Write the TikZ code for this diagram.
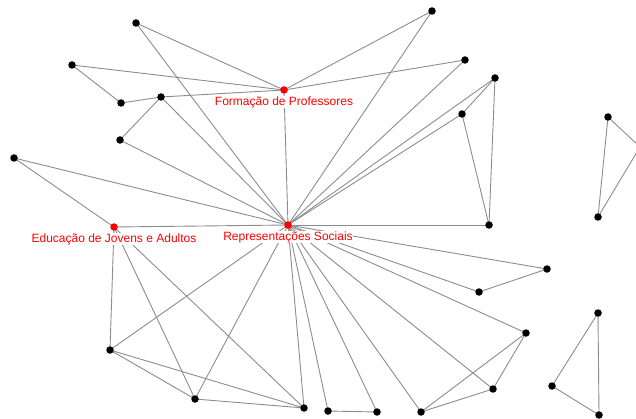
\documentclass[tikz,border=0pt]{standalone}
\usepackage{fontspec}
\setmainfont{Liberation Sans}
\usetikzlibrary{backgrounds}
\definecolor{edgegray}{RGB}{140,140,140}
\definecolor{hubred}{RGB}{255,0,0}
\tikzset{
  dot/.style={circle,fill=black,inner sep=0pt,minimum size=7.5pt},
  hub/.style={circle,fill=hubred,inner sep=0pt,minimum size=7.5pt},
  hublabel/.style={text=hubred,fill=white,font=\fontsize{12}{14}\selectfont,inner xsep=0.5pt,inner ysep=0.5pt},
  link/.style={draw=edgegray,line width=0.9pt}
}
\begin{document}
\begin{tikzpicture}[x=1pt,y=-1pt]
\useasboundingbox (0,0) rectangle (636,419);
\clip (0,0) rectangle (636,419);
% hubs
\node[hub] (FP) at (284,90) {};
\node[hub] (RS) at (288,225) {};
\node[hub] (EJA) at (114,227) {};
\node[hublabel] (FPl) at (284,102) {Formação de Professores};
\node[hublabel] (RSl) at (288,237) {Representações Sociais};
\node[hublabel] (EJAl) at (114,239) {Educação de Jovens e Adultos};
% other nodes
\node[dot] (A1) at (136,23) {};
\node[dot] (A2) at (72,65) {};
\node[dot] (A3) at (121,103) {};
\node[dot] (A4) at (161,97) {};
\node[dot] (A5) at (120,140) {};
\node[dot] (A6) at (14,158) {};
\node[dot] (B1) at (432,11) {};
\node[dot] (B2) at (465,60) {};
\node[dot] (B3) at (495,78) {};
\node[dot] (B4) at (462,114) {};
\node[dot] (B5) at (608,117) {};
\node[dot] (X) at (640,147) {};
\node[dot] (C1) at (110,350) {};
\node[dot] (C2) at (195,399) {};
\node[dot] (C3) at (304,408) {};
\node[dot] (D0) at (489,225) {};
\node[dot] (D1) at (598,217) {};
\node[dot] (D2) at (547,269) {};
\node[dot] (D3) at (479,292) {};
\node[dot] (D4) at (526,333) {};
\node[dot] (D5) at (598,313) {};
\node[dot] (D6) at (552,386) {};
\node[dot] (D7) at (493,389) {};
\node[dot] (D8) at (328,411) {};
\node[dot] (D9) at (377,412) {};
\node[dot] (D10) at (421,412) {};
\node[dot] (D11) at (599,415) {};
\begin{pgfonlayer}{background}
\foreach \a/\b in {A1/FP,A1/RS,A2/FP,A2/A3,A3/A4,A4/FP,A4/A5,A4/RS,A5/RS,
  A6/RS,A6/EJA,FP/RS,FP/B1,FP/B2,B1/RS,B2/RS,B3/RS,B3/B4,B3/D0,B4/RS,B4/D0,
  B5/D1,B5/X,X/D1,EJA/RS,EJA/C1,EJA/C2,EJA/C3,RS/C1,RS/C2,RS/C3,C1/C2,C1/C3,C2/C3,
  RS/D0,RS/D2,RS/D3,D2/D3,RS/D4,RS/D7,D4/D7,D4/D10,D7/D10,RS/D8,RS/D9,D8/D9,RS/D10,
  D5/D6,D5/D11,D6/D11}
  \draw[link] (\a.center) -- (\b.center);
\end{pgfonlayer}
\end{tikzpicture}
\end{document}
